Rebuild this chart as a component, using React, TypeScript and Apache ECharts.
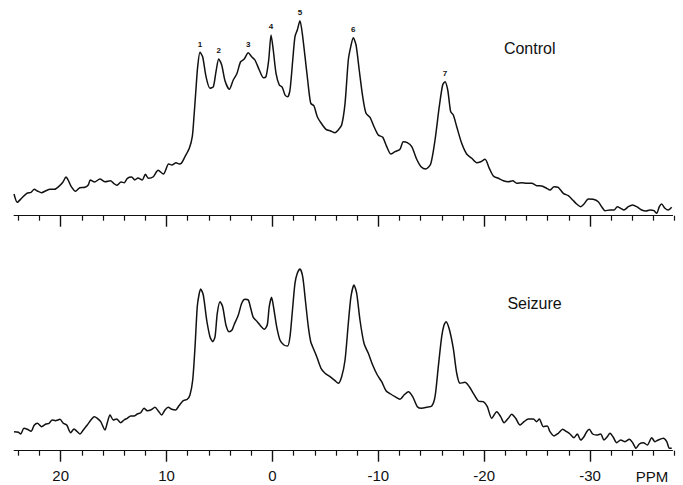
import React, { useEffect, useRef } from "react";
import * as echarts from "echarts";

const controlPpm = [24.41,24.1,23.7,23.2,22.8,22.5,22.2,21.8,21.4,21.0,20.6,20.2,19.8,19.5,19.3,19.0,18.6,18.2,17.7,17.4,17.2,16.8,16.3,15.8,15.3,15.0,14.7,14.3,14.0,13.7,13.3,13.0,12.7,12.3,12.0,11.7,11.25,10.8,10.3,9.8,9.5,9.1,8.8,8.6,8.26,7.85,7.57,7.41,7.25,7.06,6.84,6.59,6.27,5.9,5.58,5.33,5.07,4.79,4.48,4.07,3.7,3.37,3.0,2.68,2.28,1.96,1.65,1.24,0.86,0.61,0.35,0.13,-0.08,-0.34,-0.65,-0.93,-1.19,-1.44,-1.66,-1.92,-2.13,-2.35,-2.6,-2.82,-3.08,-3.33,-3.62,-3.93,-4.24,-4.66,-5.06,-5.5,-5.91,-6.22,-6.54,-6.86,-7.17,-7.4,-7.64,-7.9,-8.2,-8.53,-8.84,-9.22,-9.6,-10.0,-10.42,-10.8,-11.18,-11.58,-12.05,-12.36,-12.74,-13.16,-13.63,-14.04,-14.5,-14.95,-15.36,-15.76,-16.08,-16.3,-16.56,-16.84,-17.09,-17.41,-17.88,-18.35,-18.83,-19.3,-19.68,-20.08,-20.49,-20.87,-21.34,-21.81,-22.28,-22.7,-23.08,-23.55,-24.02,-24.49,-24.97,-25.44,-25.91,-26.22,-26.6,-27.0,-27.48,-27.95,-28.37,-28.74,-29.12,-29.43,-29.84,-30.31,-30.78,-31.1,-31.42,-31.89,-32.27,-32.58,-32.9,-33.21,-33.62,-34.03,-34.41,-34.88,-35.29,-35.66,-36.04,-36.3,-36.55,-36.77,-37.08,-37.4,-37.72];
const controlVal = [21.7,13.4,17.4,22.4,23.4,26.4,24.7,23,25,26.4,26.4,29,33.4,38.7,35.7,29,24.4,28,28.4,30.7,35.7,33.7,36.7,34,35,32.4,30.4,33.7,33,37.4,38.7,35.7,37.7,35.7,41.4,37.4,39,45.4,41.7,51.7,50.7,53,51.7,52.4,59,67.4,79,99,122.4,149,163.4,159,139,127.4,129,144,156.7,150.7,135,126.4,135.7,141.7,154,156.4,163,159,155.7,145.7,138,139,155.7,180.7,165.7,142.4,130.7,128.4,120.7,119,125.7,155.7,179,185.7,195,182.4,159,135.7,112.4,109.7,99,91.7,86.4,84.7,83,85.7,90.7,112.4,155.7,169,178,170.7,145.7,119,102.4,98.4,89,80.7,78.4,69,61.7,64,66.4,74,73,69,56.4,49,46.7,51.7,75.7,109,130.7,134,125.7,104,100.7,89,72.4,61.7,57.4,53,54,56.4,47.4,39.7,37.4,35,34,35,32.4,33,32.4,32.4,30,29.7,27.4,25.7,29,28.4,22.4,20,15.7,11.7,9,11.7,16.7,16.4,14,9,5,5.7,5.7,9,7.4,5.7,9,10.7,9,5.7,4.7,5.7,5,2.4,9,11.7,7.4,5.7,8.4];

const seizurePpm = [24.41,24.0,23.78,23.47,23.16,22.8,22.5,22.2,21.8,21.4,21.1,20.8,20.5,20.07,19.75,19.43,19.06,18.74,18.43,18.18,17.87,17.49,17.07,16.83,16.54,16.22,15.82,15.6,15.34,15.03,14.71,14.33,14.02,13.71,13.39,13.08,12.76,12.44,12.13,11.82,11.5,11.09,10.78,10.46,10.15,9.84,9.51,9.14,8.83,8.42,8.04,7.79,7.53,7.31,7.1,6.94,6.78,6.53,6.21,5.9,5.64,5.42,5.21,4.95,4.7,4.39,4.1,3.8,3.63,3.22,2.9,2.59,2.28,2.05,1.81,1.43,1.11,0.77,0.49,0.3,0.08,-0.15,-0.4,-0.71,-1.09,-1.44,-1.66,-1.88,-2.13,-2.35,-2.6,-2.86,-3.11,-3.39,-3.62,-3.93,-4.24,-4.59,-4.97,-5.44,-5.91,-6.22,-6.54,-6.86,-7.17,-7.42,-7.7,-7.96,-8.27,-8.65,-9.06,-9.47,-9.91,-10.32,-10.73,-11.17,-11.58,-12.05,-12.43,-12.84,-13.25,-13.69,-14.1,-14.57,-15.05,-15.36,-15.67,-15.99,-16.21,-16.4,-16.71,-17.09,-17.41,-17.72,-18.19,-18.6,-18.98,-19.45,-19.92,-20.3,-20.71,-21.19,-21.56,-21.88,-22.28,-22.6,-22.98,-23.39,-23.77,-24.17,-24.65,-24.97,-25.21,-25.59,-25.97,-26.22,-26.6,-27.0,-27.42,-27.8,-28.11,-28.49,-28.8,-29.12,-29.43,-29.69,-29.93,-30.25,-30.63,-31.01,-31.32,-31.63,-31.89,-32.2,-32.52,-32.9,-33.31,-33.71,-34.03,-34.35,-34.66,-35.04,-35.41,-35.83,-36.14,-36.45,-36.93,-37.25,-37.5,-37.72];
const seizureVal = [19,18.4,16.7,22.4,21.4,19.4,25.4,27.4,24,26.7,27.4,30.7,30,31.4,27.4,25.7,18,21.7,19,16.7,20.7,25.7,31.7,34,32.4,29,20.7,28,35.7,30.7,31.7,28,30.7,32.4,34.7,34.7,36.7,38,42.4,40,40.7,43.4,39.7,35.7,40.7,43.4,41.4,40.7,45,50,51.4,55.7,70.7,104,144,155.7,161.7,155.7,130.7,114,109,114,137.4,149,144,125.7,119,121,125.7,135.7,147.4,151.4,150.7,142.4,133.4,129,124.7,121.4,125.7,144,153.4,140.7,124,110.7,105.7,104.7,114,139,167.4,177.4,181.7,174,150.7,124,109,100.7,92.4,82.4,77.4,74,70,67.4,74,90.7,127.4,154,165.7,157.4,130.7,107.4,97.4,85.7,75.7,69,60,56.7,54,51.4,55.7,59,54,44,42.4,43.4,44.7,54,84,114,125.7,129,121.4,102,77.4,67.4,68.4,64,57.4,49.7,49,44,32.4,39,34,28,32.4,36.4,32.4,25.7,29,31.7,31.7,29,31.7,24,24.7,19,14.7,17.4,21.4,19,16.7,13,16.7,10.7,14,19,21.4,16.7,15.7,16.7,10.7,14,17.4,13.4,8,10.7,9,11.4,8,2.4,6.7,8,5.7,13,9,10.7,12.4,9,2.4,2.4];

const peakLabels = ["1", "2", "3", "4", "5", "6", "7"];
const peakPpm = [6.84, 5.07, 2.28, 0.13, -2.6, -7.64, -16.3];

const tickLabels = [20, 10, 0, -10, -20, -30];
const panelNames = ["Control", "Seizure"];

const FONT = '"Liberation Sans", Arial, Helvetica, sans-serif';
const INK = "#111";
const OFF = 60; // chart div extends this far left of the viewport

export default function App() {
  const ref = useRef<HTMLDivElement>(null);
  useEffect(() => {
    if (!ref.current) return;
    const chart = echarts.init(ref.current, null, { renderer: "svg" });

    const pxPerPpm = 10.586;
    const x20 = 60.7 + OFF;
    const lineLeft = x20 - (24.4 - 20) * pxPerPpm;
    const lineWidth = 62.2 * pxPerPpm;
    const tickLeft = x20 - (30 - 20) * pxPerPpm;
    const tickWidth = 70 * pxPerPpm;
    const panelTops = [5, 240];
    const panelH = 210.7;

    const grids: any[] = [];
    const xAxes: any[] = [];
    const yAxes: any[] = [];
    panelTops.forEach((top, p) => {
      grids.push({ left: lineLeft, width: lineWidth, top, height: panelH });
      grids.push({ left: tickLeft, width: tickWidth, top, height: panelH });
      const gi = p * 2;
      xAxes.push({
        type: "value", gridIndex: gi, min: -37.8, max: 24.4, inverse: true,
        axisLine: { show: true, lineStyle: { color: INK, width: 1.2 } },
        axisTick: { show: false },
        axisLabel: { show: false },
        splitLine: { show: false },
      });
      xAxes.push({
        type: "value", gridIndex: gi + 1, min: -40, max: 30, interval: 10, inverse: true,
        axisLine: { show: false },
        axisTick: { show: true, length: 11, lineStyle: { color: INK, width: 1.4 } },
        minorTick: { show: true, splitNumber: 5, length: 5, lineStyle: { color: INK, width: 1.2 } },
        axisLabel: {
          show: true, margin: 17, fontSize: 15, color: INK, fontFamily: FONT,
          formatter: (v: number) => (p === 1 && tickLabels.indexOf(v) >= 0 ? String(v) : ""),
        },
        splitLine: { show: false },
      });
      yAxes.push({ type: "value", gridIndex: gi, min: 0, max: panelH, show: false });
      yAxes.push({ type: "value", gridIndex: gi + 1, min: 0, max: panelH, show: false });
    });

    const controlData = controlPpm.map((x, i) => [x, controlVal[i]]);
    const seizureData = seizurePpm.map((x, i) => [x, seizureVal[i]]);
    const peakData = peakPpm.map((x, i) => {
      const idx = controlPpm.indexOf(x);
      return { name: peakLabels[i], coord: [x, controlVal[idx]] };
    });

    chart.setOption({
      animation: false,
      backgroundColor: "#fff",
      grid: grids,
      xAxis: xAxes,
      yAxis: yAxes,
      series: [
        {
          name: panelNames[0], type: "line", xAxisIndex: 0, yAxisIndex: 0,
          data: controlData, showSymbol: false, smooth: 0.25,
          lineStyle: { color: INK, width: 1.5 },
          markPoint: {
            symbol: "circle", symbolSize: 0.1, silent: true,
            itemStyle: { color: "transparent" },
            label: {
              show: true, position: "top", distance: 4, formatter: "{b}",
              fontSize: 8, fontWeight: "bold", color: INK, fontFamily: FONT,
            },
            data: peakData,
          },
        },
        {
          name: panelNames[1], type: "line", xAxisIndex: 2, yAxisIndex: 2,
          data: seizureData, showSymbol: false, smooth: 0.25,
          lineStyle: { color: INK, width: 1.5 },
        },
      ],
      graphic: [
        { type: "text", x: 529.7 + OFF, y: 48.3, style: { text: panelNames[0], fill: INK, font: `16px ${FONT}`, align: "center", verticalAlign: "middle", textAlign: "center", textVerticalAlign: "middle" } },
        { type: "text", x: 534.5 + OFF, y: 303.3, style: { text: panelNames[1], fill: INK, font: `16px ${FONT}`, align: "center", verticalAlign: "middle", textAlign: "center", textVerticalAlign: "middle" } },
        { type: "text", x: 652 + OFF, y: 476, style: { text: "PPM", fill: INK, font: `15px ${FONT}`, align: "center", verticalAlign: "middle", textAlign: "center", textVerticalAlign: "middle" } },
      ],
    });
    return () => chart.dispose();
  }, []);
  return (
    <div
      ref={ref}
      style={{ position: "fixed", left: -OFF, top: 0, width: 683 + OFF + 40, height: 485, background: "#fff" }}
    />
  );
}
